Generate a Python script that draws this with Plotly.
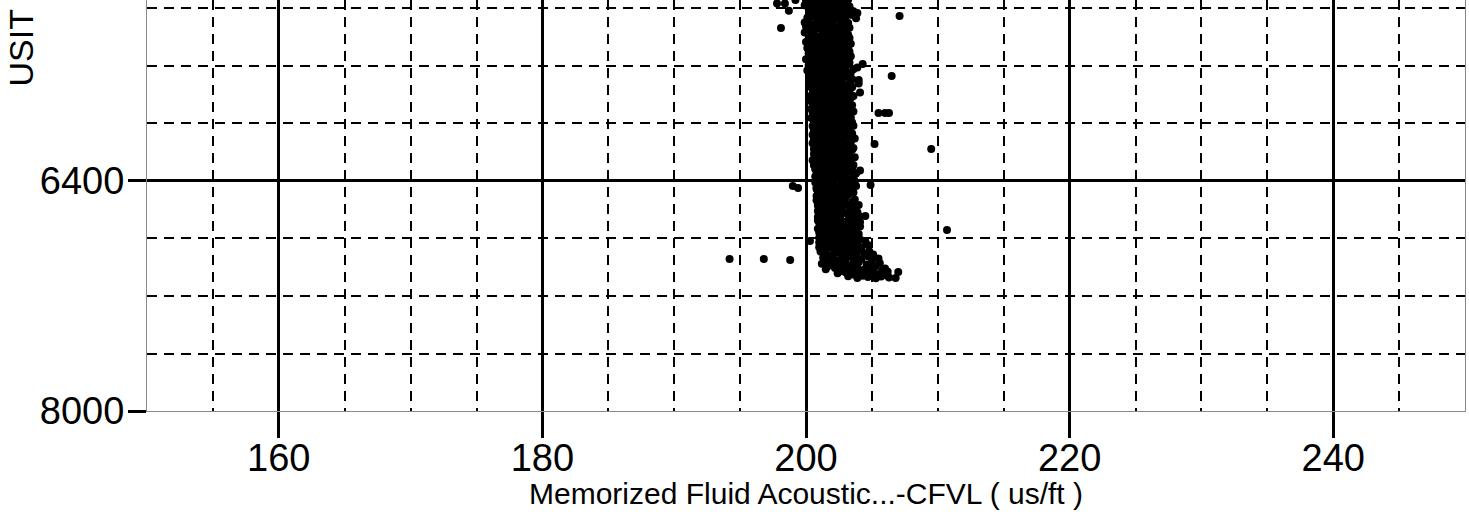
import plotly.graph_objects as go

# Depth samples (ft) and memorized fluid acoustic slowness CFVL (us/ft)
depth_ft = [
    5100, 5103, 5106, 5109, 5112, 5115, 5118, 5121, 5124, 5127,
    5130, 5133, 5136, 5139, 5142, 5145, 5148, 5151, 5154, 5157,
    5160, 5163, 5166, 5169, 5172, 5175, 5178, 5181, 5184, 5187,
    5190, 5193, 5196, 5199, 5202, 5205, 5208, 5211, 5214, 5217,
    5220, 5223, 5226, 5229, 5232, 5235, 5238, 5241, 5244, 5247,
    5250, 5253, 5256, 5259, 5262, 5265, 5268, 5271, 5274, 5277,
    5280, 5283, 5286, 5289, 5292, 5295, 5298, 5301, 5304, 5307,
    5310, 5313, 5316, 5319, 5322, 5325, 5328, 5331, 5334, 5337,
    5340, 5343, 5346, 5349, 5352, 5355, 5358, 5361, 5364, 5367,
    5370, 5373, 5376, 5379, 5382, 5385, 5388, 5391, 5394, 5397,
    5400, 5403, 5406, 5409, 5412, 5415, 5418, 5421, 5424, 5427,
    5430, 5433, 5436, 5439, 5442, 5445, 5448, 5451, 5454, 5457,
    5460, 5463, 5466, 5469, 5472, 5475, 5478, 5481, 5484, 5487,
    5490, 5493, 5496, 5499, 5502, 5505, 5508, 5511, 5514, 5517,
    5520, 5523, 5526, 5529, 5532, 5535, 5538, 5541, 5544, 5547,
    5550, 5553, 5556, 5559, 5562, 5565, 5568, 5571, 5574, 5577,
    5580, 5583, 5586, 5589, 5592, 5595, 5598, 5601, 5604, 5607,
    5610, 5613, 5616, 5619, 5622, 5625, 5628, 5631, 5634, 5637,
    5640, 5643, 5646, 5649, 5652, 5655, 5658, 5661, 5664, 5667,
    5670, 5673, 5676, 5679, 5682, 5685, 5688, 5691, 5694, 5697,
    5700, 5703, 5706, 5709, 5712, 5715, 5718, 5721, 5724, 5727,
    5730, 5733, 5736, 5739, 5742, 5745, 5748, 5751, 5754, 5757,
    5760, 5763, 5766, 5769, 5772, 5775, 5778, 5781, 5784, 5787,
    5790, 5793, 5796, 5799, 5802, 5805, 5808, 5811, 5814, 5817,
    5820, 5823, 5826, 5829, 5832, 5835, 5838, 5841, 5844, 5847,
    5850, 5853, 5856, 5859, 5862, 5865, 5868, 5871, 5874, 5877,
    5880, 5883, 5886, 5889, 5892, 5895, 5898, 5901, 5904, 5907,
    5910, 5913, 5916, 5919, 5922, 5925, 5928, 5931, 5934, 5937,
    5940, 5943, 5946, 5949, 5952, 5955, 5958, 5961, 5964, 5967,
    5970, 5973, 5976, 5979, 5982, 5985, 5988, 5991, 5994, 5997,
    6000, 6003, 6006, 6009, 6012, 6015, 6018, 6021, 6024, 6027,
    6030, 6033, 6036, 6039, 6042, 6045, 6048, 6051, 6054, 6057,
    6060, 6063, 6066, 6069, 6072, 6075, 6078, 6081, 6084, 6087,
    6090, 6093, 6096, 6099, 6102, 6105, 6108, 6111, 6114, 6117,
    6120, 6123, 6126, 6129, 6132, 6135, 6138, 6141, 6144, 6147,
    6150, 6153, 6156, 6159, 6162, 6165, 6168, 6171, 6174, 6177,
    6180, 6183, 6186, 6189, 6192, 6195, 6198, 6201, 6204, 6207,
    6210, 6213, 6216, 6219, 6222, 6225, 6228, 6231, 6234, 6237,
    6240, 6243, 6246, 6249, 6252, 6255, 6258, 6261, 6264, 6267,
    6270, 6273, 6276, 6279, 6282, 6285, 6288, 6291, 6294, 6297,
    6300, 6303, 6306, 6309, 6312, 6315, 6318, 6321, 6324, 6327,
    6330, 6333, 6336, 6339, 6342, 6345, 6348, 6351, 6354, 6357,
    6360, 6363, 6366, 6369, 6372, 6375, 6378, 6381, 6384, 6387,
    6390, 6393, 6396, 6399, 6402, 6405, 6408, 6411, 6414, 6417,
    6420, 6423, 6426, 6429, 6432, 6435, 6438, 6441, 6444, 6447,
    6450, 6453, 6456, 6459, 6462, 6465, 6468, 6471, 6474, 6477,
    6480, 6483, 6486, 6489, 6492, 6495, 6498, 6501, 6504, 6507,
    6510, 6513, 6516, 6519, 6522, 6525, 6528, 6531, 6534, 6537,
    6540, 6543, 6546, 6549, 6552, 6555, 6558, 6561, 6564, 6567,
    6570, 6573, 6576, 6579, 6582, 6585, 6588, 6591, 6594, 6597,
    6600, 6603, 6606, 6609, 6612, 6615, 6618, 6621, 6624, 6627,
    6630, 6633, 6636, 6639, 6642, 6645, 6648, 6651, 6654, 6657,
    6660, 6663, 6666, 6669, 6672, 6675, 6678, 6681, 6684, 6687,
    6690, 6693, 6696, 6699, 6702, 6705, 6708, 6711, 6714, 6717,
    6720, 6723, 6726, 6729, 6732, 6735, 6738, 6741, 6744, 6747,
    6750, 6753, 6756, 6759, 6762, 6765, 6768, 6771, 6774, 6777,
    6780, 6783, 6786, 6789, 6792, 6795, 6798, 6801, 6804, 6807,
    6810, 6813, 6816, 6819, 6822, 6825, 6828, 6831, 6834, 6837,
    6840, 6843, 6846, 6849, 6852, 6855, 6858, 6861, 6864, 6867,
    6870, 6873, 6876, 6879, 6882, 6885, 6888, 6891, 6894, 6897,
    6900, 6903, 6906, 6909, 6912, 6915, 6918, 6921, 6924, 6927,
    6930, 6933, 6936, 6939, 6942, 6945, 6948, 6951, 6954, 6957,
    6960, 6963, 6966, 6969, 6972, 6975, 6978, 6981, 6984, 6987,
    6990, 6993, 6996, 6999, 7002, 7005, 7008, 7011, 7014, 7017,
    7020, 7023, 7026, 7029, 7032, 7035, 7038, 7041, 7044, 7047,
    7050, 7053, 7056, 7059, 7062, 7065, 7068, 7071, 7074, 7077,
]

cfvl_us_ft = [
    201.4, 202.6, 200.3, 201.9, 203.1, 200.8, 202.2, 201.1, 202.9, 200.1,
    202.0, 200.6, 201.7, 203.2, 201.2, 202.4, 200.0, 202.8, 201.5, 200.9,
    202.3, 201.0, 203.0, 200.4, 201.8, 202.6, 199.9, 201.3, 202.1, 203.3,
    200.7, 202.5, 201.6, 200.2, 202.9, 201.1, 202.2, 200.5, 203.1, 201.9,
    203.6, 201.4, 200.8, 202.7, 203.9, 201.0, 202.0, 200.3, 203.4, 201.7,
    202.4, 203.7, 200.6, 201.8, 202.9, 200.1, 203.8, 201.3, 202.2, 200.9,
    201.5, 203.0, 200.2, 202.6, 201.1, 202.0, 199.9, 203.2, 201.7, 200.7,
    202.8, 200.4, 201.9, 203.1, 201.2, 200.0, 202.4, 201.6, 203.3, 200.8,
    201.0, 202.3, 200.5, 203.0, 201.8, 202.7, 200.2, 201.4, 202.1, 199.9,
    202.9, 201.3, 200.6, 202.2, 203.2, 201.7, 200.3, 202.5, 201.0, 203.0,
    200.9, 202.1, 203.3, 201.5, 200.2, 202.7, 201.2, 203.0, 200.6, 201.8,
    202.4, 200.0, 201.6, 202.9, 201.0, 203.4, 200.7, 202.2, 201.4, 200.3,
    201.9, 203.1, 200.5, 202.5, 201.3, 200.1, 202.8, 201.7, 203.2, 200.8,
    200.4, 202.0, 201.1, 203.3, 202.6, 200.9, 201.8, 200.2, 202.3, 201.5,
    203.0, 201.2, 200.6, 202.1, 203.4, 201.9, 200.3, 202.7, 201.0, 202.4,
    201.6, 200.0, 202.9, 201.3, 203.1, 200.7, 202.2, 201.8, 200.4, 203.3,
    202.5, 201.1, 200.8, 203.2, 201.7, 202.0, 200.2, 202.8, 201.4, 200.9,
    203.9, 201.5, 202.6, 200.5, 203.6, 201.2, 202.3, 200.1, 203.0, 201.8,
    200.6, 202.2, 203.4, 201.0, 202.7, 200.3, 201.9, 203.1, 201.4, 202.5,
    201.7, 200.9, 203.2, 202.0, 200.4, 202.8, 201.3, 203.5, 201.1, 204.0,
    202.3, 200.7, 201.8, 203.4, 201.2, 202.6, 200.4, 204.0, 201.6, 202.1,
    200.9, 203.1, 201.4, 202.5, 200.3, 201.9, 203.5, 202.2, 201.0, 202.8,
    201.7, 200.5, 202.9, 201.2, 203.3, 202.0, 200.8, 201.5, 204.1, 202.4,
    203.0, 201.3, 200.6, 202.7, 201.8, 200.4, 203.6, 201.1, 202.2, 200.9,
    202.0, 203.4, 201.5, 200.7, 202.6, 201.2, 203.1, 200.3, 201.9, 202.8,
    201.0, 202.3, 200.5, 203.2, 201.7, 202.9, 200.8, 201.4, 203.5, 202.1,
    202.7, 200.6, 201.9, 202.4, 203.3, 201.1, 200.4, 202.0, 201.6, 203.0,
    200.9, 202.5, 203.6, 201.3, 200.5, 202.2, 201.8, 203.1, 201.0, 202.6,
    201.5, 203.2, 200.7, 202.8, 201.2, 202.0, 203.4, 200.4, 201.9, 202.3,
    202.9, 201.4, 200.6, 202.1, 203.0, 201.7, 200.9, 202.6, 203.5, 201.1,
    201.8, 203.1, 200.7, 202.4, 201.3, 203.6, 200.5, 202.0, 201.6, 202.8,
    202.2, 200.9, 203.3, 201.5, 202.7, 200.6, 201.9, 203.0, 201.2, 202.5,
    200.8, 202.6, 201.4, 203.5, 202.0, 201.1, 200.5, 202.9, 201.7, 203.2,
    203.0, 201.6, 200.9, 202.3, 201.2, 203.7, 202.1, 200.6, 202.7, 201.4,
    201.9, 202.8, 200.7, 203.4, 201.5, 202.2, 200.5, 201.1, 203.0, 202.5,
    202.4, 201.0, 203.2, 201.7, 200.8, 202.9, 201.3, 203.6, 202.0, 200.6,
    201.2, 203.5, 202.1, 200.9, 202.6, 201.8, 203.1, 200.7, 202.3, 201.5,
    202.9, 200.6, 201.6, 203.3, 201.1, 202.4, 200.8, 202.0, 203.7, 201.4,
    200.7, 202.2, 203.0, 201.3, 202.7, 200.5, 201.9, 203.4, 201.0, 202.5,
    202.0, 201.5, 200.9, 203.2, 202.8, 201.2, 203.6, 200.6, 201.8, 202.3,
    201.4, 202.9, 200.8, 203.5, 201.9, 202.3, 200.7, 203.1, 201.2, 204.1,
    202.6, 201.0, 203.3, 201.7, 200.9, 202.4, 203.8, 201.3, 202.0, 200.8,
    201.8, 203.0, 202.2, 200.7, 202.7, 201.5, 203.6, 201.1, 202.5, 200.9,
    203.2, 201.6, 200.8, 202.1, 203.7, 201.2, 202.8, 200.7, 201.9, 203.4,
    202.0, 200.9, 203.1, 201.4, 202.6, 203.8, 201.0, 202.3, 200.8, 201.7,
    201.3, 202.7, 200.8, 203.4, 202.0, 201.6, 203.0, 200.9, 202.4, 201.1,
    203.6, 201.8, 202.2, 200.9, 201.4, 203.2, 202.6, 201.0, 200.8, 202.9,
    201.5, 203.0, 200.9, 202.5, 201.2, 202.0, 203.7, 201.7, 200.8, 202.3,
    202.8, 201.1, 203.5, 201.9, 200.9, 202.4, 201.3, 203.1, 202.1, 204.0,
    200.9, 202.6, 201.6, 203.3, 202.0, 201.0, 203.8, 201.4, 202.7, 201.8,
    202.2, 201.1, 203.5, 200.9, 202.8, 201.7, 203.9, 202.0, 201.3, 203.1,
    201.5, 203.2, 202.4, 201.0, 204.0, 201.8, 202.6, 200.9, 203.6, 202.1,
    203.3, 201.2, 202.0, 203.8, 201.6, 200.9, 202.7, 201.4, 203.0, 202.3,
    201.0, 202.5, 203.9, 201.7, 202.2, 203.4, 201.1, 202.9, 201.5, 204.1,
    202.6, 201.3, 203.1, 202.0, 200.9, 203.7, 201.8, 202.4, 201.2, 203.3,
    201.6, 203.5, 202.2, 201.0, 202.8, 201.4, 204.0, 202.0, 203.2, 201.9,
    202.9, 201.2, 203.7, 201.8, 202.4, 201.0, 203.0, 202.6, 201.5, 204.1,
    201.3, 203.4, 202.0, 204.5, 201.7, 202.8, 201.0, 203.9, 202.4, 201.5,
    203.1, 201.9, 204.7, 202.3, 201.2, 203.6, 202.7, 201.0, 204.2, 202.0,
    201.6, 202.9, 204.0, 201.3, 203.3, 202.2, 204.8, 201.1, 202.6, 203.8,
    202.5, 204.4, 201.4, 203.2, 205.1, 202.0, 203.8, 201.7, 204.7, 202.9,
    203.5, 201.3, 202.7, 205.5, 202.1, 204.2, 201.9, 203.0, 205.0, 202.4,
    201.5, 204.0, 202.8, 203.6, 205.6, 201.2, 202.3, 204.6, 203.1, 201.8,
    202.6, 205.3, 201.6, 203.9, 204.8, 202.2, 206.0, 203.3, 201.5, 204.4,
    203.5, 205.8, 202.7, 204.6, 206.2, 203.0, 205.1, 202.4, 204.0, 205.5,
    203.6, 205.0, 206.1, 204.3, 203.2, 205.7, 204.7, 206.3, 203.9, 205.3,
]

# Isolated samples away from the main trend
outlier_depth_ft = [5141, 5165, 5165, 5215, 5336, 5252, 5670, 5586, 5927, 5927, 5927,
                    6143, 6177, 6428, 6435, 6449, 6643, 6685, 6741, 6817, 6943, 6943,
                    6950, 7033, 7075]
outlier_cfvl_us_ft = [199.2, 197.8, 198.4, 198.7, 198.1, 207.1, 206.5, 204.3, 205.5, 206.0,
                      206.3, 205.2, 209.5, 204.9, 199.0, 199.4, 204.5, 204.1, 210.7, 200.3,
                      194.2, 196.8, 198.8, 207.0, 206.8]

x_ticks = [160, 180, 200, 220, 240]
y_ticks = [6400, 8000]

x_title = "Memorized Fluid Acoustic...-CFVL ( us/ft )"
y_title = "USIT Depth ( ft )"

FONT = "Arial, Liberation Sans, sans-serif"

fig = go.Figure(
    go.Scatter(
        x=cfvl_us_ft + outlier_cfvl_us_ft,
        y=depth_ft + outlier_depth_ft,
        mode="markers",
        marker=dict(color="black", size=8, line=dict(width=0)),
        hoverinfo="x+y",
        showlegend=False,
    )
)

W, H = 1469, 517
ML, MR, MT, MB = 147, 4, 0, 106
plot_w = W - ML - MR
plot_h = H - MT - MB

fig.update_layout(
    width=W,
    height=H,
    margin=dict(l=ML, r=MR, t=MT, b=MB, pad=0),
    paper_bgcolor="white",
    plot_bgcolor="white",
    font=dict(family=FONT, color="black"),
    xaxis=dict(
        range=[150, 250],
        tickvals=x_ticks,
        ticktext=[str(v) for v in x_ticks],
        tickfont=dict(size=38, family=FONT, color="black"),
        ticks="outside",
        ticklen=26,
        tickwidth=3,
        tickcolor="black",
        ticklabelstandoff=-13,
        showgrid=True,
        gridcolor="black",
        gridwidth=3,
        showline=True,
        linecolor="#8a8a8a",
        linewidth=1,
        mirror=False,
        zeroline=False,
        minor=dict(dtick=5, tick0=0, showgrid=True, gridcolor="black",
                   gridwidth=1.6, griddash="10px,7px", ticks=""),
    ),
    yaxis=dict(
        range=[8000, 5141],
        tickvals=y_ticks,
        ticktext=[str(v) for v in y_ticks],
        tickfont=dict(size=38, family=FONT, color="black"),
        ticks="outside",
        ticklen=18,
        tickwidth=3,
        tickcolor="black",
        ticklabelstandoff=-4,
        showgrid=True,
        gridcolor="black",
        gridwidth=3,
        showline=True,
        linecolor="#8a8a8a",
        linewidth=1,
        mirror=True,
        zeroline=False,
        minor=dict(dtick=400, tick0=0, showgrid=True, gridcolor="black",
                   gridwidth=1.6, griddash="10px,7px", ticks=""),
    ),
    annotations=[
        dict(
            text=x_title, xref="paper", yref="paper",
            x=0.5, y=-(493 - plot_h) / plot_h,
            xanchor="center", yanchor="middle", showarrow=False,
            font=dict(size=30, family=FONT, color="black"),
        ),
        dict(
            text=y_title, xref="paper", yref="paper",
            x=(21 - ML) / plot_w, y=(plot_h - 89) / plot_h,
            xanchor="center", yanchor="bottom", textangle=-90, showarrow=False,
            font=dict(size=34, family=FONT, color="black"),
        ),
    ],
)

fig.write_html("out.html")
